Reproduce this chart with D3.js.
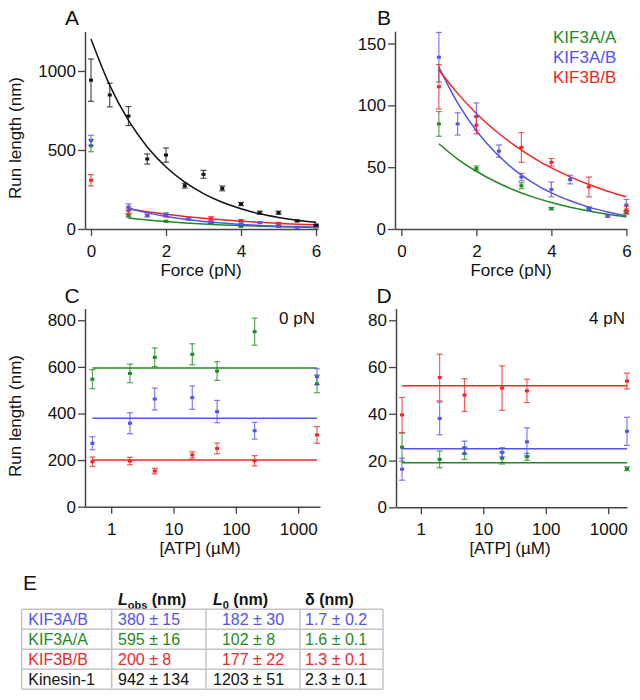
<!DOCTYPE html>
<html><head><meta charset="utf-8">
<script src="https://cdn.jsdelivr.net/npm/d3@7"></script>
<style>body{margin:0;background:#fff}svg{display:block}text{font-family:"Liberation Sans",Arial,sans-serif}</style>
</head><body><svg id="c" width="640" height="700"></svg>
<script>
// ---------- data ----------
const seriesNames = ["KIF3A/A","KIF3A/B","KIF3B/B"];
const colors = {"KIF3A/A":"#1f8a1f","KIF3A/B":"#5252ee","KIF3B/B":"#ee2626","Kinesin-1":"#111"};

// Force dependence (panels A, B)
const forceK1 = [0,0.5,1,1.5,2,2.5,3,3.5,4,4.5,5,5.5,6];
const runK1   = [942,848,715,443,468,274,346,257,158,103,103,51,25];
const errK1   = [134,75,60,32,45,15,25,15,10,10,10,5,5];

const force3AB = [0,1,1.5,2,2.6,3.2,4,4.5,5,5.5,6];
const run3AB   = [561,139,85,91,63,42,32,40,16.5,10.5,19.4];
const err3AB   = [32,20,9,11,5,3,6,3.5,1.5,1,4.5];

const force3AA = [0,1,2,3.2,4,5,6];
const run3AA   = [527,85,49,35,16.5,16,13.2];
const err3AA   = [38,10,2,2.5,1,1,1];

const force3BB = [0,1,2,3.2,4,5,6];
const run3BB   = [308,115,84,66,54,34,15.4];
const err3BB   = [36,18,7,12,3,8,3];

// fitted curves
const fitForceK1 = [0,0.5,1,1.5,2,2.5,3,3.5,4,4.5,5,5.5,6];
const fitK1      = [1203,909,687,519,392,296,224,169,128,96,73,55,42];
const fitForce   = [1,1.5,2,2.5,3,3.5,4,4.5,5,5.5,6];
const fit3AB     = [131,102,79.5,62,48.2,37.6,29.2,22.8,17.7,13.8,10.7];
const fit3BB     = [128.6,109.7,93.5,79.7,68,58,49.4,42.2,36,30.6,26.1];
const fit3AA     = [69,56.6,46.7,38.4,31.6,26,21.4,17.6,14.5,11.9,9.8];

// ATP dependence, 0 pN (panel C)
const atpC = [0.5,2,5,20,50,200,2000];
const c3AA = [547,572,641,654,582,751,527];
const c3AAerr = [41,40,40,45,40,58,38];
const c3AB = [272,358,462,468,408,326,558];
const c3ABerr = [28,45,47,50,48,36,34];
const c3BB = [193,196,153,222,250,197,308];
const c3BBerr = [20,16,12,14,23,22,36];
const cMean = {"KIF3A/A":595,"KIF3A/B":380,"KIF3B/B":200};

// ATP dependence, 4 pN (panel D)
const atpD = [0.5,2,5,20,50,2000];
const d3AA = [25.7,20.5,23,21,21.6,16.5];
const d3AAerr = [6,3.6,2.5,2.5,1.5,0.8];
const d3AB = [16.3,38,25.5,23.5,28,32.5];
const d3ABerr = [4.7,7,2.8,2,6,6];
const d3BB = [39.5,55.5,48,51,49.8,54];
const d3BBerr = [7.5,10,7,9.5,5,3.4];
const dMean = {"KIF3A/A":19.1,"KIF3A/B":25,"KIF3B/B":52};

// Table (panel E)
const tableNames = ["KIF3A/B","KIF3A/A","KIF3B/B","Kinesin-1"];
const tableLobs  = ["380 ± 15","595 ± 16","200 ± 8","942 ± 134"];
const tableL0    = ["182 ± 30","102 ± 8","177 ± 22","1203 ± 51"];
const tableDelta = ["1.7 ± 0.2","1.6 ± 0.1","1.3 ± 0.1","2.3 ± 0.1"];

const forceTicks = [0,2,4,6];
const atpTicks = [1,10,100,1000];

// ---------- drawing ----------
const svg = d3.select("#c");
svg.append("rect").attr("width",640).attr("height",700).attr("fill","#fff");
const FS = 17;

function zip(xs, ys, es){ return xs.map((x,i)=>({x, y:ys[i], e: es? es[i]:0})); }

function axes(g, x, y, xTicks, yTicks, xFmt){
  const xa = d3.axisBottom(x).tickValues(xTicks).tickSize(7).tickPadding(9).tickSizeOuter(0).tickFormat(xFmt||d3.format("d"));
  const ya = d3.axisLeft(y).tickValues(yTicks).tickSize(7).tickPadding(2).tickSizeOuter(0).tickFormat(d3.format("d"));
  const gx = g.append("g").attr("transform",`translate(0,${y.range()[0]})`).call(xa);
  const gy = g.append("g").attr("transform",`translate(${x.range()[0]},0)`).call(ya);
  [gx,gy].forEach(a=>{
    a.select(".domain").attr("stroke","#444").attr("stroke-width",1.5);
    a.selectAll(".tick line").attr("stroke","#444").attr("stroke-width",1.3);
    a.selectAll("text").attr("font-size",FS).attr("fill","#111").attr("font-family","Liberation Sans, Arial, sans-serif");
  });
}

function points(g, x, y, data, color){
  const gg = g.append("g");
  const cap = 3;
  data.forEach(d=>{
    const px = x(d.x), y1 = y(d.y + d.e), y2 = y(Math.max(0,d.y - d.e));
    gg.append("line").attr("x1",px).attr("x2",px).attr("y1",y1).attr("y2",y2)
      .attr("stroke",color).attr("stroke-width",1.2).attr("stroke-opacity",0.75);
    [y1,y2].forEach(yy=>gg.append("line").attr("x1",px-cap).attr("x2",px+cap).attr("y1",yy).attr("y2",yy)
      .attr("stroke",color).attr("stroke-width",1.2).attr("stroke-opacity",0.75));
    gg.append("rect").attr("x",px-2).attr("y",y(d.y)-1.5).attr("width",4).attr("height",3).attr("fill",color);
  });
}

function curve(g, x, y, xs, ys, color){
  g.append("path").datum(xs.map((v,i)=>[v,ys[i]]))
    .attr("d", d3.line().x(d=>x(d[0])).y(d=>y(d[1])).curve(d3.curveMonotoneX))
    .attr("fill","none").attr("stroke",color).attr("stroke-width",1.5);
}

function hline(g, x, y, x0, x1, v, color){
  g.append("line").attr("x1",x(x0)).attr("x2",x(x1)).attr("y1",y(v)).attr("y2",y(v))
    .attr("stroke",color).attr("stroke-width",1.5);
}

function label(txt, x, y, opts={}){
  const t = svg.append("text").attr("x",x).attr("y",y).attr("font-size",opts.fs||FS)
    .attr("fill",opts.fill||"#111").attr("text-anchor",opts.anchor||"middle").text(txt);
  if(opts.rotate) t.attr("transform",`rotate(-90,${x},${y})`);
  return t;
}

// ----- Panel A -----
{
  const g = svg.append("g");
  const x = d3.scaleLinear().domain([-0.16,6.05]).range([85,317.9]);
  const y = d3.scaleLinear().domain([0,1250]).range([229,31.5]);
  axes(g,x,y,forceTicks,[0,500,1000]);
  curve(g,x,y,fitForce,fit3AA,colors["KIF3A/A"]);
  curve(g,x,y,fitForce,fit3BB,colors["KIF3B/B"]);
  curve(g,x,y,fitForce,fit3AB,colors["KIF3A/B"]);
  curve(g,x,y,fitForceK1,fitK1,"#111");
  points(g,x,y,zip(force3AA,run3AA,err3AA),colors["KIF3A/A"]);
  points(g,x,y,zip(force3BB,run3BB,err3BB),colors["KIF3B/B"]);
  points(g,x,y,zip(force3AB,run3AB,err3AB),colors["KIF3A/B"]);
  points(g,x,y,zip(forceK1,runK1,errK1),"#111");
  label("Force (pN)",201,276);
  label("Run length (nm)",21,138,{rotate:true});
  label("A",72,25,{fs:21});
}
// ----- Panel B -----
{
  const g = svg.append("g");
  const x = d3.scaleLinear().domain([-0.17,6.0]).range([395,626.4]);
  const y = d3.scaleLinear().domain([0,160]).range([229,31.2]);
  axes(g,x,y,forceTicks,[0,50,100,150]);
  curve(g,x,y,fitForce,fit3AA,colors["KIF3A/A"]);
  curve(g,x,y,fitForce,fit3AB,colors["KIF3A/B"]);
  curve(g,x,y,fitForce,fit3BB,colors["KIF3B/B"]);
  points(g,x,y,zip(force3AA.slice(1),run3AA.slice(1),err3AA.slice(1)),colors["KIF3A/A"]);
  points(g,x,y,zip(force3AB.slice(1),run3AB.slice(1),err3AB.slice(1)),colors["KIF3A/B"]);
  points(g,x,y,zip(force3BB.slice(1),run3BB.slice(1),err3BB.slice(1)),colors["KIF3B/B"]);
  label("Force (pN)",511,276);
  label("B",384,25,{fs:21});
  seriesNames.forEach((s,i)=>label(s,553,43+i*20,{anchor:"start",fill:colors[s]}));
}
// ----- Panel C -----
{
  const g = svg.append("g");
  const x = d3.scaleLog().domain([0.38,2240]).range([85,320]);
  const y = d3.scaleLinear().domain([0,850]).range([506.7,308.6]);
  axes(g,x,y,atpTicks,[0,200,400,600,800],d3.format("d"));
  const sets = {"KIF3A/A":[c3AA,c3AAerr],"KIF3A/B":[c3AB,c3ABerr],"KIF3B/B":[c3BB,c3BBerr]};
  seriesNames.forEach(s=>{
    hline(g,x,y,0.5,2000,cMean[s],colors[s]);
    points(g,x,y,zip(atpC,sets[s][0],sets[s][1]),colors[s]);
  });
  label("[ATP] (µM)",200,554);
  label("Run length (nm)",21,416,{rotate:true});
  label("0 pN",315,324,{anchor:"end"});
  label("C",72,303,{fs:21});
}
// ----- Panel D -----
{
  const g = svg.append("g");
  const x = d3.scaleLog().domain([0.40,2000]).range([396,627]);
  const y = d3.scaleLinear().domain([0,85]).range([507.3,308.6]);
  axes(g,x,y,atpTicks,[0,20,40,60,80],d3.format("d"));
  const sets = {"KIF3A/A":[d3AA,d3AAerr],"KIF3A/B":[d3AB,d3ABerr],"KIF3B/B":[d3BB,d3BBerr]};
  seriesNames.forEach(s=>{
    hline(g,x,y,0.5,2000,dMean[s],colors[s]);
    points(g,x,y,zip(atpD,sets[s][0],sets[s][1]),colors[s]);
  });
  label("[ATP] (µM)",510,554);
  label("4 pN",625,324,{anchor:"end"});
  label("D",384,303,{fs:21});
}
// ----- Panel E (table) -----
{
  label("E",30,590,{fs:21});
  const colX = [21.7,111.7,206,300,383];
  const rowY = [609.3,629.3,649.3,669.3,689.3];
  const tg = svg.append("g");
  // header
  const hdr = [[118,"L","obs"],[213,"L","0"],[305,"δ",null]];
  hdr.forEach(h=>{
    const t = tg.append("text").attr("x",h[0]).attr("y",605).attr("font-size",16).attr("font-weight","bold").attr("fill","#111");
    t.append("tspan").attr("font-style", h[2]?"italic":"normal").text(h[1]);
    if(h[2]){
      t.append("tspan").attr("font-size",11).attr("dy",4).text(h[2]);
      t.append("tspan").attr("dy",-4).text(" (nm)");
    } else {
      t.append("tspan").text(" (nm)");
    }
  });
  // grid
  rowY.forEach(yy=>tg.append("line").attr("x1",colX[0]).attr("x2",colX[4]).attr("y1",yy).attr("y2",yy)
    .attr("stroke","#c4c4c4").attr("stroke-width",1.5));
  colX.forEach(xx=>tg.append("line").attr("x1",xx).attr("x2",xx).attr("y1",rowY[0]).attr("y2",rowY[4])
    .attr("stroke","#c4c4c4").attr("stroke-width",1.5));
  tableNames.forEach((n,i)=>{
    const yy = (rowY[i]+rowY[i+1])/2 + 5.8;
    const col = colors[n];
    const l0pad = tableL0[i].length < 9 ? "\u00a0\u00a0" : "";
    [[28.3,n],[118,tableLobs[i]],[213,l0pad+tableL0[i]],[305,tableDelta[i]]].forEach(c=>{
      tg.append("text").attr("x",c[0]).attr("y",yy).attr("font-size",16).attr("fill",col).text(c[1]);
    });
  });
}
</script></body></html>
